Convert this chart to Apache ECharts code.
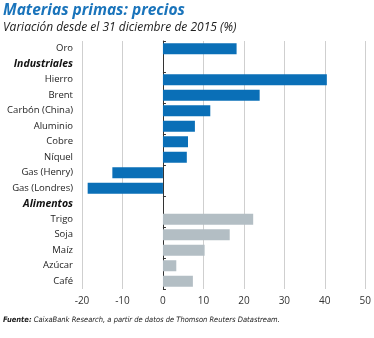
<!DOCTYPE html>
<html><head><meta charset="utf-8">
<script src="https://cdn.jsdelivr.net/npm/echarts@6/dist/echarts.min.js"></script>
<style>html,body{margin:0;padding:0;background:#fff}#c{width:374px;height:338px}</style>
</head><body><div id="c"></div>
<script>
const categories = ['Oro','Industriales','Hierro','Brent','Carbón (China)','Aluminio','Cobre','Níquel','Gas (Henry)','Gas (Londres)','Alimentos','Trigo','Soja','Maíz','Azúcar','Café'];
const values = [18.2, null, 40.5, 23.9, 11.7, 7.9, 6.2, 5.9, -12.5, -18.6, null, 22.3, 16.5, 10.3, 3.3, 7.4];
const headers = ['Industriales','Alimentos'];
const xTicks = [-20,-10,0,10,20,30,40,50];
const foodStart = categories.indexOf('Alimentos');

const chart = echarts.init(document.getElementById('c'));
chart.setOption({
  animation:false,
  title:[
    {text:'Materias primas: precios', left:-2, top:-2, textStyle:{fontFamily:'Open Sans', fontStyle:'italic', fontWeight:'bold', fontSize:15.5, color:'#1a74bb'}},
    {text:'Variación desde el 31 diciembre de 2015 (%)', left:-2, top:17, textStyle:{fontFamily:'Open Sans', fontStyle:'italic', fontWeight:'normal', fontSize:12, color:'#222'}},
    {text:'{b|Fuente:} CaixaBank Research, a partir de datos de Thomson Reuters Datastream.', left:-2, top:311, textStyle:{fontFamily:'DejaVu Sans Condensed', fontStyle:'italic', fontWeight:'normal', fontSize:7.5, color:'#222', rich:{b:{fontFamily:'DejaVu Sans Condensed', fontStyle:'italic', fontWeight:'bold', fontSize:7.5, color:'#222'}}}}
  ],
  grid:{left:82, right:8, top:41, bottom:49, containLabel:false},
  xAxis:{type:'value', min:xTicks[0], max:xTicks[xTicks.length-1], interval:10,
    axisLine:{show:false}, axisTick:{show:false},
    axisLabel:{fontFamily:'Open Sans', fontSize:10, color:'#333', margin:7},
    splitLine:{lineStyle:{color:'#cfcfcf', width:1}}},
  yAxis:[
    {type:'category', data:categories, inverse:true, position:'left',
      axisLine:{onZero:true, lineStyle:{color:'#333', width:1}},
      axisTick:{show:true, inside:true, length:3, lineStyle:{color:'#333'}},
      axisLabel:{show:false}},
    {type:'category', data:categories, inverse:true, position:'left',
      axisLine:{show:false, onZero:false}, axisTick:{show:false},
      axisLabel:{margin:9, fontFamily:'Open Sans', fontSize:9.5, color:'#222',
        formatter:v=> headers.includes(v) ? '{h|'+v+'}' : v,
        rich:{h:{fontFamily:'Open Sans', fontStyle:'italic', fontWeight:'bold', fontSize:10.5, color:'#111'}}}}
  ],
  series:[{type:'bar', yAxisIndex:0, data:values, barWidth:11,
    itemStyle:{color:p=> p.dataIndex > foodStart ? '#b3bec4' : '#0a6fb7'}}]
});
</script></body></html>
